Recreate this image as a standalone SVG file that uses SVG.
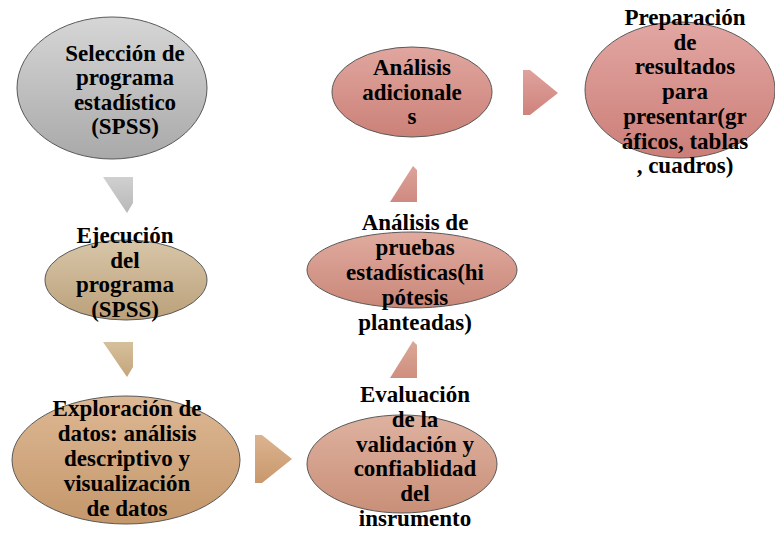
<svg xmlns="http://www.w3.org/2000/svg" width="775" height="535" viewBox="0 0 775 535">
<defs>
<linearGradient id="gGray" x1="0" y1="0" x2="0" y2="1"><stop offset="0" stop-color="#d6d6d6"/><stop offset="1" stop-color="#a9a9a9"/></linearGradient>
<linearGradient id="gTan" x1="0" y1="0" x2="0" y2="1"><stop offset="0" stop-color="#d8c6a8"/><stop offset="1" stop-color="#bba07a"/></linearGradient>
<linearGradient id="gTan2" x1="0" y1="0" x2="0" y2="1"><stop offset="0" stop-color="#ddb894"/><stop offset="1" stop-color="#c4976b"/></linearGradient>
<linearGradient id="gRose1" x1="0" y1="0" x2="0" y2="1"><stop offset="0" stop-color="#deb2a0"/><stop offset="1" stop-color="#c98f78"/></linearGradient>
<linearGradient id="gRose2" x1="0" y1="0" x2="0" y2="1"><stop offset="0" stop-color="#e0ab9f"/><stop offset="1" stop-color="#c98779"/></linearGradient>
<linearGradient id="gRose3" x1="0" y1="0" x2="0" y2="1"><stop offset="0" stop-color="#e0a69f"/><stop offset="1" stop-color="#cb8178"/></linearGradient>
<linearGradient id="gRose4" x1="0" y1="0" x2="0" y2="1"><stop offset="0" stop-color="#e2a6a2"/><stop offset="1" stop-color="#cc7e78"/></linearGradient>
<linearGradient id="aGray" x1="0" y1="0" x2="0" y2="1"><stop offset="0" stop-color="#d0d0d0"/><stop offset="1" stop-color="#b8b8b8"/></linearGradient>
<linearGradient id="aTan" x1="0" y1="0" x2="0" y2="1"><stop offset="0" stop-color="#d6c09c"/><stop offset="1" stop-color="#c4a57a"/></linearGradient>
<linearGradient id="aTan2" x1="0" y1="0" x2="0" y2="1"><stop offset="0" stop-color="#dbb490"/><stop offset="1" stop-color="#c9986c"/></linearGradient>
<linearGradient id="aRose1" x1="0" y1="0" x2="0" y2="1"><stop offset="0" stop-color="#dba897"/><stop offset="1" stop-color="#cf8f7e"/></linearGradient>
<linearGradient id="aRose2" x1="0" y1="0" x2="0" y2="1"><stop offset="0" stop-color="#dca39a"/><stop offset="1" stop-color="#cf8a80"/></linearGradient>
<linearGradient id="aRose3" x1="0" y1="0" x2="0" y2="1"><stop offset="0" stop-color="#dfa29d"/><stop offset="1" stop-color="#cf837c"/></linearGradient>
</defs>
<style>
.n{stroke:#595959;stroke-width:1}
text{font-family:'Liberation Serif','Tinos','DejaVu Serif',serif;font-weight:700;font-size:23px;fill:#000;text-anchor:middle}
</style>
<g id="connectors">
<polygon points="103,177 133,177 133,203 127,213" fill="url(#aGray)"/>
<polygon points="103,342 133,342 133,367 127,377" fill="url(#aTan)"/>
<polygon points="255,435 262,435 292,459 262,483 255,483" fill="url(#aTan2)"/>
<polygon points="390,378 417,378 417,345 413,341" fill="url(#aRose1)"/>
<polygon points="390,202 417,202 417,170 413,166" fill="url(#aRose2)"/>
<polygon points="523,70 530,70 558,93 530,115 523,115" fill="url(#aRose3)"/>
</g>
<g id="node1">
<ellipse class="n" cx="112" cy="88" rx="95" ry="71" fill="url(#gGray)"/>
<text><tspan x="125" y="60.5">Selección de</tspan><tspan x="125" y="85">programa</tspan><tspan x="125" y="109.5">estadístico</tspan><tspan x="125" y="134">(SPSS)</tspan></text>
</g>
<g id="node2">
<ellipse class="n" cx="126" cy="280" rx="81" ry="40" fill="url(#gTan)"/>
<text><tspan x="125" y="243">Ejecución</tspan><tspan x="125" y="267.5">del</tspan><tspan x="125" y="292">programa</tspan><tspan x="125" y="316.5">(SPSS)</tspan></text>
</g>
<g id="node3">
<ellipse class="n" cx="126" cy="460" rx="114" ry="64" fill="url(#gTan2)"/>
<text><tspan x="127" y="416">Exploración de</tspan><tspan x="127" y="441">datos: análisis</tspan><tspan x="127" y="466">descriptivo y</tspan><tspan x="127" y="491">visualización</tspan><tspan x="127" y="516">de datos</tspan></text>
</g>
<g id="node4">
<ellipse class="n" cx="402" cy="464" rx="95" ry="49" fill="url(#gRose1)"/>
<text><tspan x="415" y="402">Evaluación</tspan><tspan x="415" y="426.8">de la</tspan><tspan x="415" y="451.6">validación y</tspan><tspan x="415" y="476.4">confiablidad</tspan><tspan x="415" y="501.2">del</tspan><tspan x="415" y="526">insrumento</tspan></text>
</g>
<g id="node5">
<ellipse class="n" cx="412" cy="270" rx="105" ry="38" fill="url(#gRose2)"/>
<text><tspan x="415" y="230">Análisis de</tspan><tspan x="415" y="255">pruebas</tspan><tspan x="415" y="280">estadísticas(hi</tspan><tspan x="415" y="305">pótesis</tspan><tspan x="415" y="330">planteadas)</tspan></text>
</g>
<g id="node6">
<ellipse class="n" cx="412" cy="92" rx="80" ry="45" fill="url(#gRose3)"/>
<text><tspan x="412" y="75">Análisis</tspan><tspan x="412" y="99.5">adicionale</tspan><tspan x="412" y="124">s</tspan></text>
</g>
<g id="node7">
<ellipse class="n" cx="680" cy="90" rx="95" ry="68" fill="url(#gRose4)"/>
<text><tspan x="685" y="25">Preparación</tspan><tspan x="685" y="49.7">de</tspan><tspan x="685" y="74.4">resultados</tspan><tspan x="685" y="99.1">para</tspan><tspan x="685" y="123.8">presentar(gr</tspan><tspan x="685" y="148.5">áficos, tablas</tspan><tspan x="685" y="173.2">, cuadros)</tspan></text>
</g>
</svg>
